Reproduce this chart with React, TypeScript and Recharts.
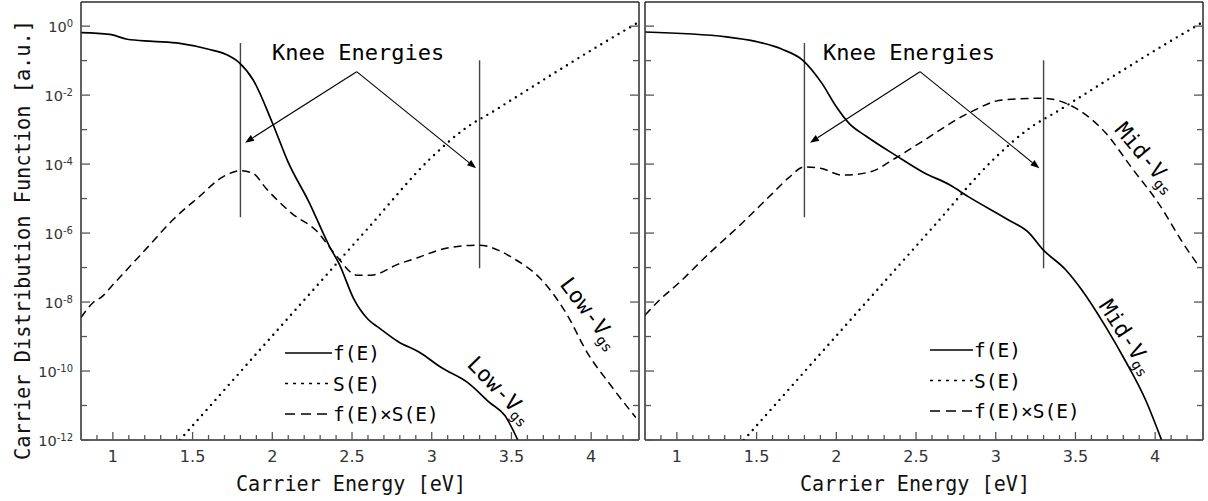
import { LineChart, Line, XAxis, YAxis, ReferenceLine, ReferenceDot, Legend } from 'recharts'

// All amplitudes are stored as log10 of the distribution value.

// S(E) is the same for both bias points
const sEnergy = [1.42, 1.8, 2.2, 2.6, 3.0, 3.2, 3.4, 3.6, 3.8, 4.0, 4.2, 4.3]
const sLog = [-12, -10.02, -7.94, -5.86, -3.8, -3.0, -2.43, -1.85, -1.27, -0.7, -0.15, 0.12]

// Low-Vgs
const fLowEnergy = [0.8, 0.98, 1.09, 1.25, 1.42, 1.6, 1.71, 1.79, 1.88, 2.0, 2.1, 2.23, 2.36, 2.42, 2.51, 2.6, 2.67, 2.79, 2.92, 3.06, 3.23, 3.36, 3.46, 3.54]
const fLowLog = [-0.19, -0.24, -0.38, -0.44, -0.5, -0.67, -0.82, -1.05, -1.56, -2.8, -3.95, -5.1, -6.4, -6.9, -7.9, -8.5, -8.75, -9.15, -9.45, -9.9, -10.35, -10.9, -11.3, -12]
const fsLowEnergy = [0.8, 0.88, 0.93, 1.0, 1.1, 1.22, 1.38, 1.54, 1.69, 1.8, 1.88, 1.96, 2.12, 2.28, 2.4, 2.53, 2.62, 2.79, 2.92, 3.04, 3.2, 3.3, 3.42, 3.5, 3.69, 3.84, 3.98, 4.12, 4.28]
const fsLowLog = [-8.45, -8.0, -7.85, -7.5, -7.0, -6.4, -5.6, -4.95, -4.37, -4.19, -4.27, -4.7, -5.42, -5.95, -6.65, -7.22, -7.22, -6.9, -6.7, -6.5, -6.37, -6.35, -6.5, -6.7, -7.36, -8.3, -9.5, -10.4, -11.35]

// Mid-Vgs
const fMidEnergy = [0.8, 1.31, 1.5, 1.66, 1.79, 1.91, 2.0, 2.08, 2.19, 2.37, 2.55, 2.71, 2.83, 3.08, 3.21, 3.29, 3.44, 3.54, 3.69, 3.81, 3.94, 4.04]
const fMidLog = [-0.17, -0.31, -0.45, -0.67, -0.99, -1.66, -2.34, -2.82, -3.2, -3.74, -4.25, -4.6, -4.95, -5.62, -6.0, -6.45, -7.07, -7.65, -8.72, -9.68, -10.84, -12]
const fsMidEnergy = [0.8, 0.9, 1.0, 1.2, 1.4, 1.6, 1.7, 1.8, 1.9, 2.04, 2.21, 2.37, 2.52, 2.83, 3.04, 3.29, 3.52, 3.69, 3.85, 4.02, 4.19, 4.28]
const fsMidLog = [-8.38, -7.9, -7.5, -6.6, -5.75, -4.85, -4.4, -4.08, -4.12, -4.32, -4.23, -3.83, -3.4, -2.52, -2.14, -2.09, -2.43, -3.1, -4.09, -5.13, -6.4, -7.0]

const xMajor = [1, 1.5, 2, 2.5, 3, 3.5, 4]
const xMinor = [0.9, 1.1, 1.2, 1.3, 1.4, 1.6, 1.7, 1.8, 1.9, 2.1, 2.2, 2.3, 2.4, 2.6, 2.7, 2.8, 2.9, 3.1, 3.2, 3.3, 3.4, 3.6, 3.7, 3.8, 3.9, 4.1, 4.2]
const yTicks = [1, 1e-1, 1e-2, 1e-3, 1e-4, 1e-5, 1e-6, 1e-7, 1e-8, 1e-9, 1e-10, 1e-11, 1e-12]
const legendNames = ['f(E)', 'S(E)', 'f(E)×S(E)']

const X_DOMAIN = [0.8, 4.3]
const Y_DOMAIN = [1e-12, 10 ** 0.7]
const FRAME = '#2b2b2b'
const TICK = '#555'
const MONO = 'DejaVu Sans Mono'

const xTicks = [...xMajor, ...xMinor].sort((a, b) => a - b)
const rows = (energy: number[], logs: number[]) => energy.map((E, i) => ({ E, v: 10 ** logs[i] }))
const isMajorX = (v: number) => Math.abs(v * 2 - Math.round(v * 2)) < 1e-6

const seriesStyle = [
  { stroke: '#000', strokeWidth: 1.7 },
  { stroke: '#000', strokeWidth: 2.4, strokeDasharray: '0 6.7', strokeLinecap: 'round' as const },
  { stroke: '#000', strokeWidth: 1.5, strokeDasharray: '8 5' },
]
const legendStyle = [
  { strokeWidth: 1.4 },
  { strokeWidth: 1.4, strokeDasharray: '3 5' },
  { strokeWidth: 1.4, strokeDasharray: '10 6' },
]

const BottomTick = ({ x, y, payload }: any) => {
  const major = isMajorX(payload.value)
  return (
    <g>
      <line x1={x} x2={x} y1={y} y2={y - (major ? 8 : 5)} stroke={TICK} strokeWidth={1.3} />
      {major && (
        <text x={x} y={y + 22} textAnchor="middle" fontFamily="DejaVu Sans" fontSize={16} fill="#333">
          {payload.value}
        </text>
      )}
    </g>
  )
}

const TopTick = ({ x, y, payload }: any) => (
  <line x1={x} x2={x} y1={y} y2={y + (isMajorX(payload.value) ? 8 : 5)} stroke={TICK} strokeWidth={1.3} />
)

const LeftTick = ({ x, y, payload, labelled }: any) => {
  const exp = Math.round(Math.log10(payload.value))
  const major = exp % 2 === 0
  return (
    <g>
      <line x1={x} x2={x + (major ? 9 : 6)} y1={y} y2={y} stroke={TICK} strokeWidth={1.3} />
      {labelled && major && (
        <text x={x - 8} y={y + 5.5} textAnchor="end" fontFamily="DejaVu Sans" fontSize={14.5} fill="#333">
          10
          <tspan dy={-4.5} fontSize={10}>
            {exp}
          </tspan>
        </text>
      )}
    </g>
  )
}

const RightTick = ({ x, y, payload }: any) => {
  const major = Math.round(Math.log10(payload.value)) % 2 === 0
  return <line x1={x} x2={x - (major ? 9 : 6)} y1={y} y2={y} stroke={TICK} strokeWidth={1.3} />
}

const Arrow = ({ x1, y1, x2, y2 }: any) => {
  const a = Math.atan2(y2 - y1, x2 - x1)
  const len = 9
  const w = 3.4
  const bx = x2 - len * Math.cos(a)
  const by = y2 - len * Math.sin(a)
  return (
    <g>
      <line x1={x1} y1={y1} x2={bx} y2={by} stroke="#000" strokeWidth={1.1} />
      <polygon
        points={`${x2},${y2} ${bx - w * Math.sin(a)},${by + w * Math.cos(a)} ${bx + w * Math.sin(a)},${by - w * Math.cos(a)}`}
        fill="#000"
      />
    </g>
  )
}

const LegendBox = ({ sample }: { sample: number }) => (
  <svg width={240} height={95}>
    {legendNames.map((name, i) => {
      const cy = 15 + i * 30.5
      return (
        <g key={name}>
          <line x1={0} x2={sample} y1={cy} y2={cy} stroke="#000" {...legendStyle[i]} />
          <text x={sample + 1} y={cy + 7} fontFamily={MONO} fontSize={19.5} fill="#000">
            {name}
          </text>
        </g>
      )
    })}
  </svg>
)

interface VgsLabel {
  E: number
  log: number
  angle: number
  text: string
}

interface PanelProps {
  left: number
  width: number
  axisWidth: number
  fRows: { E: number; v: number }[]
  fsRows: { E: number; v: number }[]
  apex: number[]
  tips: number[][]
  knee: number[]
  labels: VgsLabel[]
  legendLeft: number
  legendTop: number
  sample: number
  yTitle: boolean
}

const kneeLines = [
  { E: 1.8, from: -0.49, to: -5.54 },
  { E: 3.3, from: -0.99, to: -7.02 },
]

function Panel(p: PanelProps) {
  const sRows = rows(sEnergy, sLog)
  return (
    <div style={{ position: 'absolute', left: p.left, top: 0 }}>
      <LineChart width={p.width} height={501} margin={{ top: 1, right: 2, bottom: 0, left: 0 }}>
        <XAxis
          xAxisId="b"
          dataKey="E"
          type="number"
          domain={X_DOMAIN}
          allowDataOverflow
          ticks={xTicks}
          interval={0}
          tickSize={0}
          tickMargin={0}
          tickLine={false}
          axisLine={{ stroke: FRAME, strokeWidth: 1.5 }}
          height={61}
          tick={(t: any) => <BottomTick {...t} />}
          label={{
            content: ({ viewBox }: any) => (
              <text
                x={viewBox.x + viewBox.width / 2 - 9}
                y={viewBox.y + 51}
                textAnchor="middle"
                fontFamily={MONO}
                fontSize={22}
                textLength={230}
                lengthAdjust="spacingAndGlyphs"
                fill="#111"
              >
                Carrier Energy [eV]
              </text>
            ),
          }}
        />
        <XAxis
          xAxisId="t"
          orientation="top"
          type="number"
          domain={X_DOMAIN}
          allowDataOverflow
          ticks={xTicks}
          interval={0}
          tickSize={0}
          tickMargin={0}
          tickLine={false}
          axisLine={{ stroke: FRAME, strokeWidth: 1.5 }}
          height={1}
          tick={(t: any) => <TopTick {...t} />}
        />
        <YAxis
          yAxisId="l"
          type="number"
          scale="log"
          domain={Y_DOMAIN}
          allowDataOverflow
          ticks={yTicks}
          interval={0}
          tickSize={0}
          tickMargin={0}
          tickLine={false}
          axisLine={{ stroke: FRAME, strokeWidth: 1.5 }}
          width={p.axisWidth}
          tick={(t: any) => <LeftTick {...t} labelled={p.yTitle} />}
          label={
            p.yTitle
              ? {
                  content: () => (
                    <text
                      x={30}
                      y={240}
                      transform="rotate(-90, 30, 240)"
                      textAnchor="middle"
                      fontFamily={MONO}
                      fontSize={21}
                      textLength={440}
                      lengthAdjust="spacingAndGlyphs"
                      fill="#111"
                    >
                      Carrier Distribution Function [a.u.]
                    </text>
                  ),
                }
              : undefined
          }
        />
        <YAxis
          yAxisId="r"
          orientation="right"
          type="number"
          scale="log"
          domain={Y_DOMAIN}
          allowDataOverflow
          ticks={yTicks}
          interval={0}
          tickSize={0}
          tickMargin={0}
          tickLine={false}
          axisLine={{ stroke: FRAME, strokeWidth: 1.5 }}
          width={1}
          tick={(t: any) => <RightTick {...t} />}
        />

        {kneeLines.map((k) => (
          <ReferenceLine
            key={k.E}
            xAxisId="b"
            yAxisId="l"
            segment={[
              { x: k.E, y: 10 ** k.from },
              { x: k.E, y: 10 ** k.to },
            ]}
            stroke="#444"
            strokeWidth={1.4}
          />
        ))}
        {p.tips.map((tip, i) => (
          <ReferenceLine
            key={i}
            xAxisId="b"
            yAxisId="l"
            segment={[
              { x: p.apex[0], y: 10 ** p.apex[1] },
              { x: tip[0], y: 10 ** tip[1] },
            ]}
            shape={(s: any) => <Arrow {...s} />}
          />
        ))}
        <ReferenceDot
          xAxisId="b"
          yAxisId="l"
          x={p.knee[0]}
          y={10 ** p.knee[1]}
          r={0}
          fill="none"
          stroke="none"
          label={{
            content: ({ viewBox }: any) => (
              <text x={viewBox.x} y={viewBox.y} textAnchor="middle" fontFamily={MONO} fontSize={22} fill="#000">
                Knee Energies
              </text>
            ),
          }}
        />
        {p.labels.map((l, i) => (
          <ReferenceDot
            key={i}
            xAxisId="b"
            yAxisId="l"
            x={l.E}
            y={10 ** l.log}
            r={0}
            fill="none"
            stroke="none"
            label={{
              content: ({ viewBox }: any) => (
                <text
                  transform={`translate(${viewBox.x},${viewBox.y}) rotate(${l.angle})`}
                  textAnchor="middle"
                  dominantBaseline="central"
                  fontFamily={MONO}
                  fontSize={22}
                  fill="#000"
                >
                  {l.text}
                  <tspan fontSize={14} dy={7}>
                    gs
                  </tspan>
                </text>
              ),
            }}
          />
        ))}

        <Line xAxisId="b" yAxisId="l" name={legendNames[0]} data={p.fRows} dataKey="v" type="monotone" dot={false} isAnimationActive={false} {...seriesStyle[0]} />
        <Line xAxisId="b" yAxisId="l" name={legendNames[1]} data={sRows} dataKey="v" type="monotone" dot={false} isAnimationActive={false} {...seriesStyle[1]} />
        <Line xAxisId="b" yAxisId="l" name={legendNames[2]} data={p.fsRows} dataKey="v" type="monotone" dot={false} isAnimationActive={false} {...seriesStyle[2]} />

        <Legend
          layout="vertical"
          align="center"
          verticalAlign="middle"
          wrapperStyle={{ left: p.legendLeft, top: p.legendTop, width: 240, height: 95 }}
          content={() => <LegendBox sample={p.sample} />}
        />
      </LineChart>
    </div>
  )
}

export default function App() {
  return (
    <div style={{ position: 'absolute', left: 0, top: 0, width: 1208, height: 501, background: '#fff' }}>
      <Panel
        left={0}
        width={642}
        axisWidth={81}
        fRows={rows(fLowEnergy, fLowLog)}
        fsRows={rows(fsLowEnergy, fsLowLog)}
        apex={[2.529, -1.32]}
        tips={[
          [1.829, -3.38],
          [3.278, -4.12],
        ]}
        knee={[2.538, -0.99]}
        labels={[
          { E: 3.429, log: -10.55, angle: 46, text: 'Low-V' },
          { E: 3.993, log: -8.32, angle: 53, text: 'Low-V' },
        ]}
        legendLeft={285}
        legendTop={338}
        sample={47}
        yTitle
      />
      <Panel
        left={640}
        width={566}
        axisWidth={5}
        fRows={rows(fMidEnergy, fMidLog)}
        fsRows={rows(fsMidEnergy, fsMidLog)}
        apex={[2.525, -1.32]}
        tips={[
          [1.835, -3.38],
          [3.274, -4.12],
        ]}
        knee={[2.456, -0.99]}
        labels={[
          { E: 3.824, log: -9.01, angle: 57, text: 'Mid-V' },
          { E: 3.943, log: -3.8, angle: 50, text: 'Mid-V' },
        ]}
        legendLeft={290}
        legendTop={335}
        sample={43}
        yTitle={false}
      />
    </div>
  )
}
